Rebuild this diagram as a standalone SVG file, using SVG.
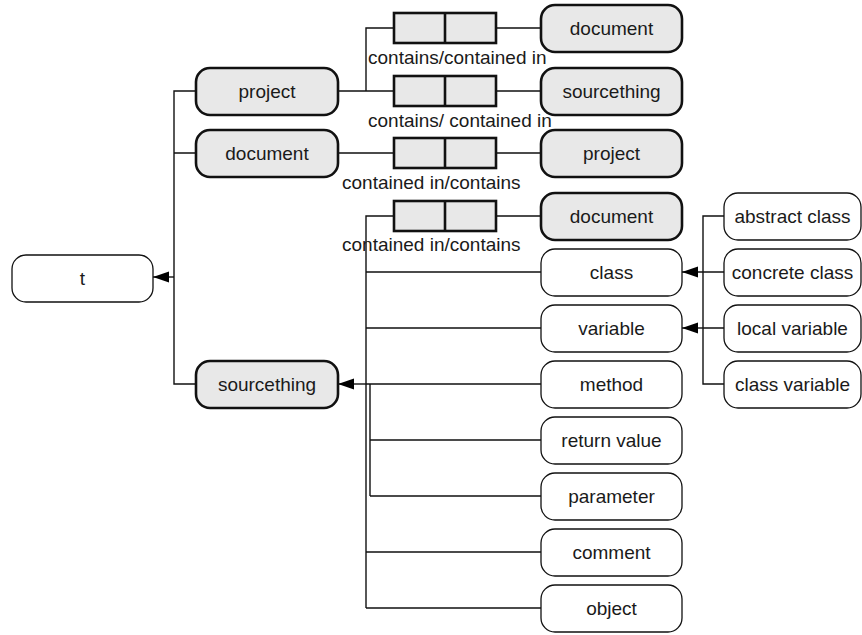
<svg xmlns="http://www.w3.org/2000/svg" width="862" height="635" viewBox="0 0 862 635">
<style>
  .bg{fill:#ffffff}
  .n rect{fill:#ffffff;stroke:#111;stroke-width:1.3}
  .g rect{fill:#e8e8e8;stroke:#111;stroke-width:2.6}
  .b rect{fill:#e8e8e8;stroke:#111;stroke-width:2.6}
  .b line{stroke:#111;stroke-width:2.6}
  text{font-family:"Liberation Sans",Arial,sans-serif;font-size:19px;fill:#1a1a1a}
  .c{text-anchor:middle}
  #connectors path{fill:none;stroke:#111;stroke-width:1.4}
</style>
<defs>
  <marker id="arr" markerUnits="userSpaceOnUse" markerWidth="17" markerHeight="12" refX="16" refY="6" orient="auto">
    <path d="M0,0.5 L16,6 L0,11.5 z" fill="#000"/>
  </marker>
</defs>
<rect class="bg" x="0" y="0" width="862" height="635"/>

<g id="connectors">
  <path d="M196,91 H174 V384 H196 M196,153 H174"/>
  <path d="M174,277 H153" marker-end="url(#arr)"/>
  <path d="M338,91 H394 M366,91 V28 H394 M496,28 H541 M496,91 H541"/>
  <path d="M338,153 H394 M496,153 H541"/>
  <path d="M366,608 V216 H394 M496,216 H541"/>
  <path d="M366,272 H541 M366,328 H541 M366,384 H541 M370,384 V496 M370,440 H541 M370,496 H541 M366,552 H541 M366,608 H541"/>
  <path d="M366,384 H338" marker-end="url(#arr)"/>
  <path d="M724,216 H703 V384 H724 M724,328 H703"/>
  <path d="M724,272 H682" marker-end="url(#arr)"/>
  <path d="M703,328 H682" marker-end="url(#arr)"/>
</g>

<g id="rel1" class="b"><rect x="394" y="13" width="102" height="30"/><line x1="445" y1="13" x2="445" y2="43"/></g>
<g id="rel2" class="b"><rect x="394" y="76" width="102" height="30"/><line x1="445" y1="76" x2="445" y2="106"/></g>
<g id="rel3" class="b"><rect x="394" y="138" width="102" height="30"/><line x1="445" y1="138" x2="445" y2="168"/></g>
<g id="rel4" class="b"><rect x="394" y="201" width="102" height="30"/><line x1="445" y1="201" x2="445" y2="231"/></g>

<g id="labels">
  <text x="368" y="64">contains/contained in</text>
  <text x="368" y="127">contains/ contained in</text>
  <text x="342" y="189">contained in/contains</text>
  <text x="342" y="251">contained in/contains</text>
</g>

<g id="t" class="n"><rect x="12" y="255" width="141" height="47" rx="14"/><text class="c" x="82.5" y="285">t</text></g>
<g id="project" class="g"><rect x="196" y="68" width="142" height="47" rx="14"/><text class="c" x="267" y="98">project</text></g>
<g id="document" class="g"><rect x="196" y="130" width="142" height="47" rx="14"/><text class="c" x="267" y="160">document</text></g>
<g id="sourcething" class="g"><rect x="196" y="361" width="142" height="47" rx="14"/><text class="c" x="267" y="391">sourcething</text></g>

<g id="document2" class="g"><rect x="541" y="5" width="141" height="47" rx="14"/><text class="c" x="611.5" y="35">document</text></g>
<g id="sourcething2" class="g"><rect x="541" y="68" width="141" height="47" rx="14"/><text class="c" x="611.5" y="98">sourcething</text></g>
<g id="project2" class="g"><rect x="541" y="130" width="141" height="47" rx="14"/><text class="c" x="611.5" y="160">project</text></g>
<g id="document3" class="g"><rect x="541" y="193" width="141" height="47" rx="14"/><text class="c" x="611.5" y="223">document</text></g>

<g id="class" class="n"><rect x="541" y="249" width="141" height="47" rx="14"/><text class="c" x="611.5" y="279">class</text></g>
<g id="variable" class="n"><rect x="541" y="305" width="141" height="47" rx="14"/><text class="c" x="611.5" y="335">variable</text></g>
<g id="method" class="n"><rect x="541" y="361" width="141" height="47" rx="14"/><text class="c" x="611.5" y="391">method</text></g>
<g id="returnvalue" class="n"><rect x="541" y="417" width="141" height="47" rx="14"/><text class="c" x="611.5" y="447">return value</text></g>
<g id="parameter" class="n"><rect x="541" y="473" width="141" height="47" rx="14"/><text class="c" x="611.5" y="503">parameter</text></g>
<g id="comment" class="n"><rect x="541" y="529" width="141" height="47" rx="14"/><text class="c" x="611.5" y="559">comment</text></g>
<g id="object" class="n"><rect x="541" y="585" width="141" height="47" rx="14"/><text class="c" x="611.5" y="615">object</text></g>

<g id="abstractclass" class="n"><rect x="724" y="193" width="137" height="47" rx="14"/><text class="c" x="792.5" y="223">abstract class</text></g>
<g id="concreteclass" class="n"><rect x="724" y="249" width="137" height="47" rx="14"/><text class="c" x="792.5" y="279">concrete class</text></g>
<g id="localvariable" class="n"><rect x="724" y="305" width="137" height="47" rx="14"/><text class="c" x="792.5" y="335">local variable</text></g>
<g id="classvariable" class="n"><rect x="724" y="361" width="137" height="47" rx="14"/><text class="c" x="792.5" y="391">class variable</text></g>
</svg>
